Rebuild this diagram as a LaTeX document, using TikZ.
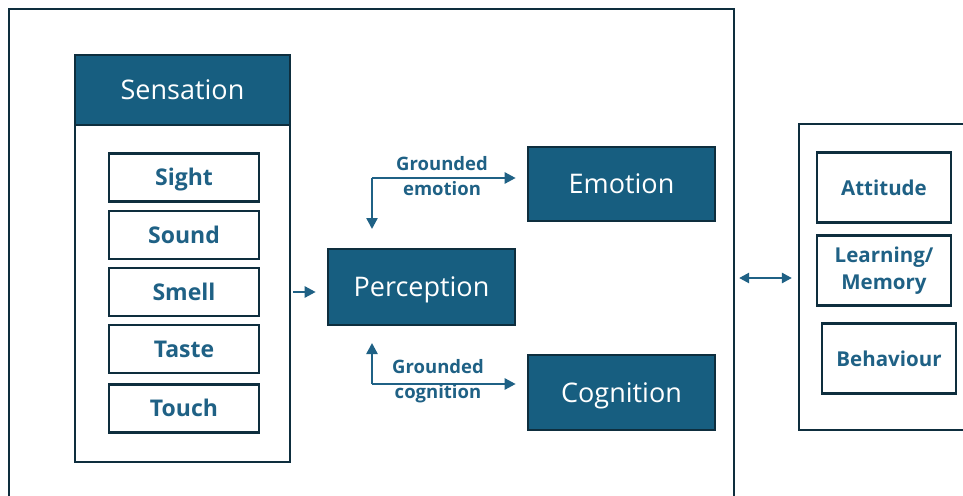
\documentclass[tikz,border=0pt]{standalone}
\usepackage{fontspec}
\setmainfont{Open Sans}
\usetikzlibrary{arrows.meta}
\usetikzlibrary{calc}
\definecolor{hdrblue}{HTML}{175E80}
\definecolor{edgeblue}{HTML}{0E2E3E}
\definecolor{txtblue}{HTML}{1F6185}
\tikzset{
  frame/.style={draw=edgeblue, line width=2.2pt, inner sep=0pt},
  darkbox/.style={frame, fill=hdrblue, text=white,
    text height=19.3pt, text depth=0pt,
    font=\fontsize{27}{30}\selectfont},
  sensebox/.style={frame, line width=2.6pt, minimum width=150pt,
    minimum height=48pt, text=txtblue,
    text height=16.4pt, text depth=0pt,
    font=\bfseries\fontsize{23}{25}\selectfont},
  outcomebox/.style={frame, line width=2.6pt, minimum width=134pt,
    minimum height=70pt, text=txtblue, align=center,
    font=\bfseries\fontsize{20.5}{27}\selectfont},
  flow/.style={draw=txtblue, line width=2.4pt,
    -{Triangle[length=11pt,width=11pt]}},
  tag/.style={text=txtblue, align=center, inner sep=0pt,
    font=\bfseries\fontsize{18.5}{25}\selectfont}
}
\begin{document}
\begin{tikzpicture}[x=1pt, y=-1pt]
    \useasboundingbox (0,0) rectangle (963,495);
    \clip (0,0) rectangle (963,495);
    \fill[white] (0,0) rectangle (963,495);
    % outer frames
    \node (mainframe) at (371.5,264.5) [frame, minimum width=725pt,
      minimum height=511pt] {};
    \node (rightframe) at (887,277) [frame, minimum width=176pt,
      minimum height=306pt] {};
    % sensation column
    \node (sensation) at (182.5,258.5) [frame, line width=2.6pt,
      minimum width=215pt, minimum height=407pt] {};
    \node (sensehdr) at (182.5,90) [darkbox, line width=2.6pt,
      minimum width=215pt, minimum height=70pt] {Sensation};
    \node (sight) at (184,177.5) [sensebox] {Sight};
    \node (sound) at (184,235) [sensebox] {Sound};
    \node (smell) at (184,292) [sensebox] {Smell};
    \node (taste) at (184,349) [sensebox] {Taste};
    \node (touch) at (184,408.5) [sensebox] {Touch};
    % middle column
    \node (perception) at (421.5,287) [darkbox, line width=2.6pt,
      minimum width=187pt, minimum height=76pt] {Perception};
    \node (emotion) at (621.5,184) [darkbox, line width=2.6pt,
      minimum width=187pt, minimum height=74pt] {Emotion};
    \node (cognition) at (621.5,392.5) [darkbox, line width=2.6pt,
      minimum width=187pt, minimum height=75pt] {Cognition};
    % right column
    \node (attitude) at (884,187.5) [outcomebox] {Attitude};
    \node (learning) at (884,270.5) [outcomebox] {Learning/\\Memory};
    \node (behaviour) at (889,358.5) [outcomebox] {Behaviour};
    % connectors
    \draw[flow, shorten <=2pt, shorten >=11pt]
      (sensation.east |- 0,292) coordinate (sensout)
      -- (perception.west |- sensout);
    \coordinate (gemo) at (372,178);
    \coordinate (gemodown) at (372,229);
    \draw[flow] (gemo) -- (gemodown);
    \draw[flow, shorten >=11pt] (gemo) -- (emotion.west |- gemo);
    \node (gemotag) at (442,176) [tag] {Grounded\\emotion};
    \coordinate (gcog) at (372,384);
    \coordinate (gcogup) at (372,343);
    \draw[flow] (gcog) -- (gcogup);
    \draw[flow, shorten >=11pt] (gcog) -- (cognition.west |- gcog);
    \node (gcogtag) at (438,381) [tag] {Grounded\\cognition};
    \draw[draw=txtblue, line width=2.4pt,
      {Triangle[length=10pt,width=10pt]}-{Triangle[length=10pt,width=10pt]},
      shorten <=4pt, shorten >=6pt]
      (mainframe.east |- 0,278) coordinate (linkl)
      -- (rightframe.west |- linkl);
\end{tikzpicture}
\end{document}
